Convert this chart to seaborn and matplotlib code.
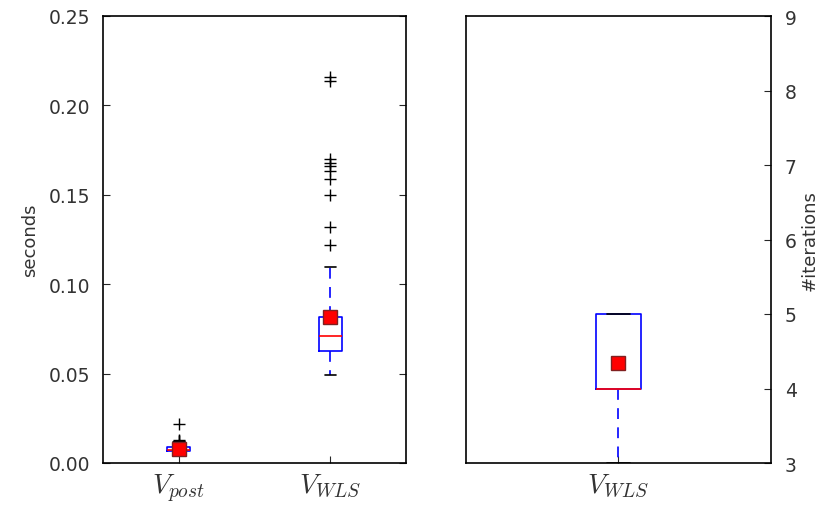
import numpy as np
import pandas as pd
import matplotlib
matplotlib.use("Agg")
import matplotlib.pyplot as plt
import seaborn as sns

sns.set_style("white")
plt.rcParams["font.family"] = ["DejaVu Sans"]
plt.rcParams["mathtext.fontset"] = "cm"

# ---- data ----
time_labels = [r"$V_{post}$", r"$V_{WLS}$"]

vpost_values = [0.0038, 0.0050, 0.0058, 0.0063, 0.0068, 0.0075, 0.0080, 0.0088,
                0.0095, 0.0105, 0.0115, 0.0125, 0.0130, 0.0218]
vpost_counts = [1, 6, 8, 10, 12, 14, 14, 12, 10, 7, 3, 2, 1, 1]

vwls_values = [0.0492, 0.056, 0.060, 0.0625, 0.068, 0.0712, 0.078, 0.0818,
               0.098, 0.105, 0.1094,
               0.122, 0.1322, 0.150, 0.159, 0.1635, 0.166, 0.168, 0.170,
               0.2138, 0.216]
vwls_counts = [1, 12, 12, 6, 12, 14, 10, 12, 6, 5, 1,
               1, 1, 1, 1, 1, 1, 1, 1, 1, 1]

iter_label = [r"$V_{WLS}$"]
iter_values = [3, 4, 5]
iter_counts = [5, 56, 39]

time_df = pd.DataFrame({
    "method": [time_labels[0]] * sum(vpost_counts) + [time_labels[1]] * sum(vwls_counts),
    "seconds": list(np.repeat(vpost_values, vpost_counts)) + list(np.repeat(vwls_values, vwls_counts)),
})
iter_df = pd.DataFrame({
    "method": iter_label * sum(iter_counts),
    "iterations": np.repeat(iter_values, iter_counts),
})

box_kw = dict(
    fill=False, width=0.15, showmeans=True,
    boxprops=dict(color="blue", linewidth=1.2),
    medianprops=dict(color="red", linewidth=1.2),
    whiskerprops=dict(color="blue", linestyle=(0, (6.5, 5)), linewidth=1.2),
    capprops=dict(color="black", linewidth=1.2),
    flierprops=dict(marker="+", markeredgecolor="black", markersize=8, markeredgewidth=1.0),
    meanprops=dict(marker="s", markerfacecolor="red", markeredgecolor="#802020", markersize=9.5),
)

fig = plt.figure(figsize=(8.28, 5.06), dpi=100)
ax1 = fig.add_axes([103/828, 42/506, 303/828, 447/506])
ax2 = fig.add_axes([466/828, 42/506, 305/828, 447/506])

sns.boxplot(data=time_df, x="method", y="seconds", ax=ax1, **box_kw)
sns.boxplot(data=iter_df, x="method", y="iterations", ax=ax2, **box_kw)

for ax in (ax1, ax2):
    for s in ax.spines.values():
        s.set_visible(True)
        s.set_color("black")
        s.set_linewidth(1.2)
    ax.set_xlabel("")

txt = "#333333"
ax1.set_xlim(-0.5, 1.5)
ax1.set_ylim(0, 0.25)
ax1.set_yticks([0, 0.05, 0.10, 0.15, 0.20, 0.25])
ax1.set_yticklabels(["0.00", "0.05", "0.10", "0.15", "0.20", "0.25"])
ax1.set_ylabel("seconds", fontsize=13, color=txt, labelpad=7)
ax1.tick_params(axis="y", direction="in", left=True, right=True, length=5,
                labelsize=13.5, pad=9, labelcolor=txt)
ax1.tick_params(axis="x", direction="in", bottom=True, top=False, length=5,
                labelsize=20, pad=6, labelcolor=txt)

ax2.set_xlim(-0.5, 0.5)
ax2.set_ylim(3, 9)
ax2.set_yticks(range(3, 10))
ax2.yaxis.tick_right()
ax2.yaxis.set_label_position("right")
ax2.set_ylabel("#iterations", fontsize=13, color=txt, labelpad=3)
ax2.tick_params(axis="y", direction="in", left=False, right=True, length=5,
                labelsize=13.5, pad=10, labelcolor=txt)
ax2.tick_params(axis="x", direction="in", bottom=True, top=False, length=5,
                labelsize=20, pad=6, labelcolor=txt)

fig.savefig("out.png", dpi=100)
